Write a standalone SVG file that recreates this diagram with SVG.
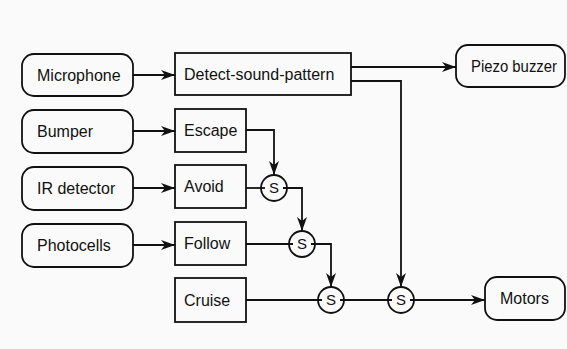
<svg xmlns="http://www.w3.org/2000/svg" width="567" height="349" viewBox="0 0 567 349">
<style>
.bg{fill:#fafafa}
.box{fill:none;stroke:#111;stroke-width:1.8}
.t{font-family:"Liberation Sans",Arial,sans-serif;font-size:16px;fill:#111}
.st{font-family:"Liberation Sans",Arial,sans-serif;font-size:15px;fill:#111;text-anchor:middle}
.c{fill:none;stroke:#111;stroke-width:1.8}
.ln{fill:none;stroke:#111;stroke-width:1.8}
</style>
<defs>
<marker id="ah" markerUnits="userSpaceOnUse" markerWidth="16" markerHeight="12" refX="14" refY="5.5" orient="auto">
<path d="M0,0.5 L14,5.5 L0,10.5 L4,5.5 z" fill="#111"/>
</marker>
</defs>
<rect class="bg" x="0" y="0" width="567" height="349"/>
<g id="connectors">
<path class="ln" d="M133,75 H175" marker-end="url(#ah)"/>
<path class="ln" d="M133,131 H175" marker-end="url(#ah)"/>
<path class="ln" d="M133,188 H175" marker-end="url(#ah)"/>
<path class="ln" d="M133,245 H175" marker-end="url(#ah)"/>
<path class="ln" d="M351,67 H456" marker-end="url(#ah)"/>
<path class="ln" d="M351,81 H401 V287" marker-end="url(#ah)"/>
<path class="ln" d="M246,130 H274 V175" marker-end="url(#ah)"/>
<path class="ln" d="M246,188 H265"/>
<path class="ln" d="M283,188 H302 V231" marker-end="url(#ah)"/>
<path class="ln" d="M246,244 H293"/>
<path class="ln" d="M311,244 H331 V287" marker-end="url(#ah)"/>
<path class="ln" d="M246,300 H322"/>
<path class="ln" d="M340,300 H392"/>
<path class="ln" d="M410,300 H485" marker-end="url(#ah)"/>
</g>
<g id="microphone"><rect class="box" x="22" y="54" width="111" height="42" rx="12"/><text class="t" x="37" y="81">Microphone</text></g>
<g id="detect"><rect class="box" x="175" y="53" width="176" height="42"/><text class="t" x="184" y="80">Detect-sound-pattern</text></g>
<g id="piezo"><rect class="box" x="456" y="45" width="109" height="42" rx="12"/><text class="t" x="471" y="72" textLength="86" lengthAdjust="spacingAndGlyphs">Piezo buzzer</text></g>
<g id="bumper"><rect class="box" x="22" y="110" width="111" height="43" rx="12"/><text class="t" x="37" y="137">Bumper</text></g>
<g id="escape"><rect class="box" x="175" y="109" width="71" height="43"/><text class="t" x="184" y="136">Escape</text></g>
<g id="ir"><rect class="box" x="22" y="167" width="111" height="43" rx="12"/><text class="t" x="37" y="194">IR detector</text></g>
<g id="avoid"><rect class="box" x="175" y="165" width="71" height="43"/><text class="t" x="184" y="192">Avoid</text></g>
<g id="photocells"><rect class="box" x="22" y="224" width="111" height="43" rx="12"/><text class="t" x="37" y="251">Photocells</text></g>
<g id="follow"><rect class="box" x="175" y="222" width="71" height="43"/><text class="t" x="184" y="249">Follow</text></g>
<g id="cruise"><rect class="box" x="175" y="278" width="71" height="44"/><text class="t" x="184" y="306">Cruise</text></g>
<g id="motors"><rect class="box" x="485" y="277" width="80" height="43" rx="12"/><text class="t" x="500" y="304">Motors</text></g>
<g id="s1"><circle class="c" cx="274" cy="188" r="13"/><text class="st" x="274" y="193">S</text></g>
<g id="s2"><circle class="c" cx="302" cy="244" r="13"/><text class="st" x="302" y="249">S</text></g>
<g id="s3"><circle class="c" cx="331" cy="300" r="13"/><text class="st" x="331" y="305">S</text></g>
<g id="s4"><circle class="c" cx="401" cy="300" r="13"/><text class="st" x="401" y="305">S</text></g>
</svg>
